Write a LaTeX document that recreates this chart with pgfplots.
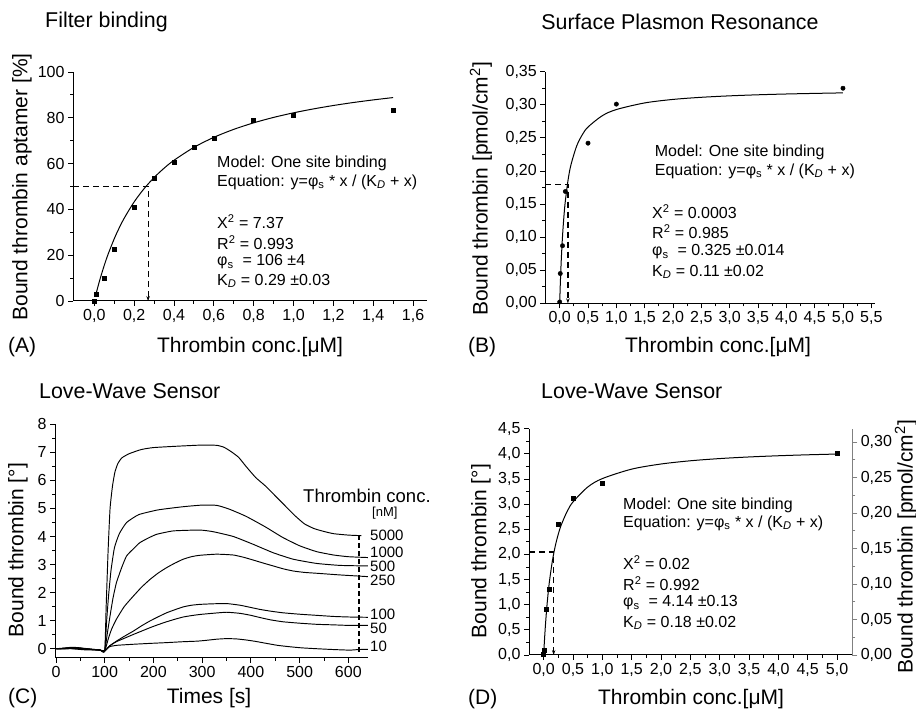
\documentclass[border=0pt]{standalone}
\usepackage{fontspec}
\setmainfont{Liberation Sans}
\usepackage{pgfplots}
\pgfplotsset{compat=1.18}
\usetikzlibrary{arrows.meta}

\newcommand\fs[1]{\fontsize{#1}{#1}\selectfont}

\pgfplotsset{
  panel/.style={
    scale only axis, anchor=south west, clip=false,
    axis lines=left, axis line style={-, line width=1pt},
    tick align=outside, major tick length=5pt, minor tick length=3pt,
    every tick/.append style={line width=0.9pt, black},
    minor tick num=1,
    tick label style={font=\fs{16}},
    /pgf/number format/assume math mode=true,
    /pgf/number format/use comma,
  },
  fitline/.style={black, line width=1pt, smooth, no marks},
  guide/.style={black, line width=1.2pt, dash pattern=on 6pt off 4pt,
    -{Stealth[length=5pt,width=3.5pt]}},
  curve/.style={black, line width=0.95pt, no marks, smooth, tension=0.3},
  dec/.style={/pgf/number format/.cd, fixed, fixed zerofill, precision=#1, use comma},
}

\begin{document}
\begin{tikzpicture}
\useasboundingbox (0,0) rectangle (916pt,712pt);

% ---------------- (A) filter binding
\begin{axis}[panel, at={(73pt,411pt)}, width=354pt, height=229pt,
  xmin=-0.107, xmax=1.67, ymin=0, ymax=100,
  xtick={0,0.2,...,1.6}, ytick={0,20,...,100},
  x tick label style={dec=1}]
\addplot[only marks, mark=square*, mark size=2pt] coordinates {
  (0,0) (0.01,2.8) (0.05,9.9) (0.1,22.7) (0.2,41) (0.3,53.8) (0.4,60.8)
  (0.5,67.3) (0.6,71.2) (0.8,78.8) (1.0,81.1) (1.5,83.4)};
\addplot[fitline] coordinates {
  (0.01,3.53) (0.02,6.84) (0.03,9.94) (0.05,15.59) (0.07,20.61) (0.1,27.18)
  (0.12,31.02) (0.15,36.14) (0.2,43.27) (0.25,49.07) (0.3,53.90) (0.35,57.97)
  (0.4,61.45) (0.5,67.09) (0.6,71.46) (0.7,74.95) (0.8,77.80) (0.9,80.17)
  (1.0,82.17) (1.1,83.88) (1.2,85.37) (1.3,86.67) (1.4,87.81) (1.5,88.83)};
\addplot[guide] coordinates {(-0.107,50) (0.27,50) (0.27,0)};
\end{axis}

% ---------------- (B) SPR
\begin{axis}[panel, at={(545.3pt,408.7pt)}, width=329.4pt, height=231.6pt,
  xmin=-0.254, xmax=5.56, ymin=0, ymax=0.35,
  xtick={0,0.5,...,5.5}, ytick={0,0.05,...,0.35},
  x tick label style={dec=1}, y tick label style={dec=2}]
\addplot[only marks, mark=*, mark size=2.2pt] coordinates {
  (0,0.002) (0.01,0.045) (0.05,0.087) (0.1,0.169) (0.5,0.242) (1.0,0.301) (5.0,0.325)};
\addplot[fitline] coordinates {
  (0,0) (0.01,0.0271) (0.02,0.05) (0.03,0.0696) (0.05,0.1016) (0.075,0.1318)
  (0.1,0.1548) (0.15,0.1875) (0.2,0.2097) (0.3,0.2378) (0.4,0.2549) (0.5,0.2664)
  (0.75,0.2834) (1.0,0.2928) (1.5,0.3028) (2,0.3081) (2.5,0.3113) (3,0.3135)
  (3.5,0.3151) (4,0.3163) (4.5,0.3172) (5,0.3180)};
\addplot[guide] coordinates {(-0.254,0.18) (0.145,0.18) (0.145,0)};
\end{axis}

% ---------------- (C) Love-wave sensorgrams
\begin{axis}[panel, at={(55pt,54.3pt)}, width=313.3pt, height=233.4pt,
  xmin=-2, xmax=641, ymin=-0.32, ymax=8,
  xtick={0,100,...,600}, ytick={0,1,...,8}]
\addplot[curve] coordinates {(0,0) (15,0.01) (30,0.05) (45,0.04) (60,0.01) (75,-0.02) (90,-0.04) (100,-0.08)
  (103,1.5) (107,3.5) (111,5.0) (116,5.8) (121,6.3) (127,6.6) (135,6.8) (150,6.95) (175,7.1)
  (200,7.17) (250,7.22) (300,7.26) (330,7.25) (345,7.18) (360,7.02) (375,6.82) (390,6.5)
  (410,6.1) (430,5.8) (450,5.45) (470,5.1) (490,4.75) (510,4.45) (530,4.28) (550,4.18)
  (570,4.1) (600,4.05) (627,4.03)};
\addplot[curve] coordinates {(0,0) (15,0.0) (30,0.03) (45,0.02) (60,0.0) (75,-0.03) (90,-0.05) (100,-0.08)
  (104,1.0) (108,1.9) (113,2.8) (120,3.6) (130,4.1) (145,4.5) (170,4.78) (210,4.95)
  (260,5.06) (300,5.12) (330,5.11) (355,4.98) (390,4.72) (430,4.34) (465,3.97) (500,3.67)
  (535,3.46) (570,3.34) (600,3.28) (640,3.25)};
\addplot[curve] coordinates {(0,0) (15,0.02) (30,0.04) (45,0.01) (60,-0.02) (75,-0.03) (90,-0.04) (100,-0.08)
  (105,0.5) (111,1.17) (117,1.8) (124,2.35) (135,2.9) (145,3.31) (160,3.58) (172,3.78)
  (190,3.95) (207,4.08) (241,4.2) (295,4.23) (323,4.17) (364,4.0) (405,3.72) (446,3.42)
  (487,3.19) (535,3.04) (583,2.97) (640,2.95)};
\addplot[curve] coordinates {(0,0) (15,0.01) (30,0.02) (45,0.03) (60,0.0) (75,-0.02) (90,-0.05) (100,-0.08)
  (107,0.33) (114,0.69) (124,1.05) (140,1.5) (159,1.88) (176,2.2) (193,2.47) (210,2.7)
  (227,2.89) (244,3.05) (261,3.19) (278,3.28) (295,3.33) (330,3.37) (364,3.34) (385,3.26)
  (405,3.16) (426,3.05) (446,2.95) (466,2.85) (487,2.77) (510,2.72) (535,2.69) (583,2.63)
  (640,2.57)};
\addplot[curve] coordinates {(0,0) (15,0.0) (30,0.02) (45,0.02) (60,-0.01) (75,-0.03) (90,-0.05) (100,-0.08)
  (110,0.1) (124,0.27) (140,0.44) (159,0.63) (176,0.82) (193,0.99) (210,1.14) (227,1.28)
  (244,1.39) (261,1.49) (278,1.55) (295,1.58) (320,1.60) (350,1.61) (378,1.55) (400,1.47)
  (419,1.40) (440,1.34) (466,1.28) (500,1.23) (535,1.19) (570,1.15) (603,1.13) (640,1.12)};
\addplot[curve] coordinates {(0,0) (15,0.01) (30,0.01) (45,0.0) (60,-0.02) (75,-0.03) (90,-0.05) (100,-0.08)
  (110,0.1) (124,0.25) (140,0.37) (159,0.51) (176,0.63) (193,0.75) (210,0.86) (227,0.96)
  (244,1.05) (261,1.13) (278,1.18) (295,1.22) (320,1.26) (350,1.30) (378,1.26) (400,1.19)
  (419,1.11) (440,1.03) (466,0.96) (500,0.91) (535,0.87) (570,0.85) (603,0.83) (640,0.83)};
\addplot[curve] coordinates {(0,0) (15,-0.01) (30,0.0) (45,-0.02) (60,-0.04) (75,-0.04) (90,-0.05) (100,-0.08)
  (110,0.07) (124,0.12) (160,0.16) (193,0.19) (230,0.22) (261,0.25) (290,0.27) (309,0.30)
  (330,0.34) (350,0.36) (370,0.35) (391,0.31) (410,0.26) (432,0.19) (455,0.12) (480,0.07)
  (505,0.03) (535,0.0) (570,-0.03) (603,-0.05) (620,-0.03) (640,-0.02)};
\addplot[black, line width=1.2pt, dash pattern=on 5pt off 3pt] coordinates {(622,4.05) (622,-0.15)};
\end{axis}

% ---------------- (D) Love-wave binding curve
\begin{axis}[panel, at={(529pt,57pt)}, width=323.3pt, height=226.3pt,
  xmin=-0.25, xmax=5.26, ymin=0, ymax=4.5,
  xtick={0,0.5,...,5}, ytick={0,0.5,...,4.5},
  x tick label style={dec=1}, y tick label style={dec=1}]
\addplot[only marks, mark=square*, mark size=2pt] coordinates {
  (0,0.01) (0.01,0.1) (0.05,0.91) (0.1,1.31) (0.25,2.61) (0.5,3.11) (1.0,3.41) (5.0,4.01)};
\addplot[fitline] coordinates {
  (0,0) (0.01,0.218) (0.02,0.414) (0.03,0.591) (0.05,0.9) (0.075,1.218) (0.1,1.479)
  (0.15,1.882) (0.2,2.179) (0.25,2.407) (0.3,2.588) (0.4,2.855) (0.5,3.044) (0.75,3.339)
  (1.0,3.508) (1.5,3.696) (2,3.798) (2.5,3.862) (3,3.906) (3.5,3.938) (4,3.962)
  (4.5,3.981) (5,3.996)};
\addplot[guide] coordinates {(-0.25,2.05) (0.17,2.05) (0.17,0)};
\end{axis}
\begin{axis}[scale only axis, anchor=south west, at={(529pt,57pt)}, width=323.3pt, height=226.3pt,
  axis x line=none, axis y line*=right, axis line style={-, gray, line width=1pt},
  xmin=0, xmax=1, ymin=0, ymax=0.3188, ytick={0,0.05,...,0.3},
  minor tick num=1, tick align=outside, major tick length=5pt, minor tick length=3pt,
  every tick/.append style={gray, line width=0.9pt},
  y tick label style={font=\fs{16}, dec=2},
  /pgf/number format/assume math mode=true]
\end{axis}

% ---------------- titles, labels, annotations
\begin{scope}[every node/.style={inner sep=0pt}]
\node[anchor=west, font=\fs{21.4}] at (45pt,690pt) {Filter binding};
\node[font=\fs{21.4}] at (680pt,690pt) {Surface Plasmon Resonance};
\node[anchor=west, font=\fs{21.4}] at (39pt,321pt) {Love-Wave Sensor};
\node[anchor=west, font=\fs{21.4}] at (541pt,321pt) {Love-Wave Sensor};

\node[rotate=90, font=\fs{21}] at (22pt,525pt) {Bound thrombin aptamer [\%]};
\node[rotate=90, font=\fs{21}] at (481pt,523pt) {Bound thrombin [pmol/cm\textsuperscript{2}]};
\node[rotate=90, font=\fs{21}] at (18pt,162pt) {Bound thrombin [°]};
\node[rotate=90, font=\fs{21}] at (481pt,161pt) {Bound thrombin [°]};
\node[rotate=90, font=\fs{21}] at (906pt,165pt) {Bound thrombin [pmol/cm\textsuperscript{2}]};

\node[font=\fs{21}] at (250pt,365pt) {Thrombin conc.[μM]};
\node[font=\fs{21}] at (718pt,365pt) {Thrombin conc.[μM]};
\node[font=\fs{21}] at (209pt,14pt) {Times [s]};
\node[font=\fs{21}] at (691pt,13pt) {Thrombin conc.[μM]};

\node[anchor=west, font=\fs{21}] at (8pt,365pt) {(A)};
\node[anchor=west, font=\fs{21}] at (468pt,365pt) {(B)};
\node[anchor=west, font=\fs{21}] at (8pt,14pt) {(C)};
\node[anchor=west, font=\fs{21}] at (468pt,13pt) {(D)};

\begin{scope}[every node/.append style={anchor=west, font=\fs{16}}]
\node at (217pt,549pt) {Model: One site binding};
\node at (217pt,530pt) {Equation: y=φ\textsubscript{s} * x / (K\textsubscript{\textit{D}} + x)};
\node at (217pt,490pt) {X\textsuperscript{2} = 7.37};
\node at (217pt,469pt) {R\textsuperscript{2} = 0.993};
\node at (217pt,450pt) {φ\textsubscript{s} \ = 106 ±4};
\node at (217pt,431pt) {K\textsubscript{\textit{D}} = 0.29 ±0.03};

\node at (654.7pt,560pt) {Model: One site binding};
\node at (654.7pt,541pt) {Equation: y=φ\textsubscript{s} * x / (K\textsubscript{\textit{D}} + x)};
\node at (652pt,500pt) {X\textsuperscript{2} = 0.0003};
\node at (652pt,480pt) {R\textsuperscript{2} = 0.985};
\node at (652pt,460pt) {φ\textsubscript{s} \ = 0.325 ±0.014};
\node at (652pt,440pt) {K\textsubscript{\textit{D}} = 0.11 ±0.02};

\node at (623pt,207pt) {Model: One site binding};
\node at (623pt,189pt) {Equation: y=φ\textsubscript{s} * x / (K\textsubscript{\textit{D}} + x)};
\node at (623pt,149pt) {X\textsuperscript{2} = 0.02};
\node at (623pt,128pt) {R\textsuperscript{2} = 0.992};
\node at (623pt,109pt) {φ\textsubscript{s} \ = 4.14 ±0.13};
\node at (623pt,89pt) {K\textsubscript{\textit{D}} = 0.18 ±0.02};
\end{scope}

\node[anchor=west, font=\fs{18.5}] at (303pt,216pt) {Thrombin conc.};
\node[anchor=west, font=\fs{13}] at (372pt,199pt) {[nM]};
\begin{scope}[every node/.append style={anchor=west, font=\fs{15}}]
\node at (370pt,177pt) {5000};
\node at (370pt,159.5pt) {1000};
\node at (370pt,146pt) {500};
\node at (370pt,132pt) {250};
\node at (370pt,98pt) {100};
\node at (370pt,84pt) {50};
\node at (370pt,66pt) {10};
\end{scope}
\end{scope}
\end{tikzpicture}
\end{document}
